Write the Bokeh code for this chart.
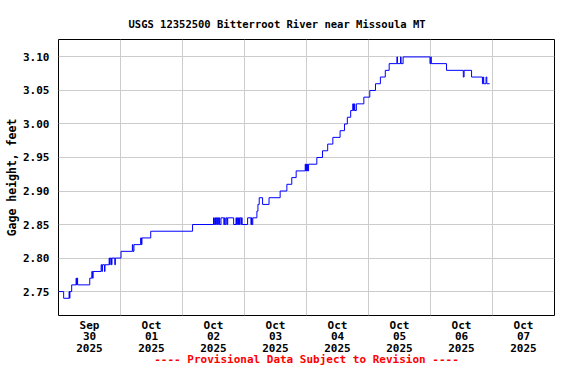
from bokeh.plotting import figure
from bokeh.models import Range1d, FixedTicker, NumeralTickFormatter
from bokeh.embed import file_html
from bokeh.resources import INLINE

# ---- data (hours since 2025-09-30 00:00 local, gage height in feet) ----
hours = [
    0.0, 2.0, 4.1, 4.3, 4.4, 5.1, 6.8, 7.0, 7.2, 7.4,
    12.1, 12.9, 13.2, 13.4, 16.5, 16.8, 17.0, 17.8, 18.0, 19.6,
    19.8, 20.0, 20.5, 20.7, 21.8, 22.0, 24.2, 28.6, 28.8, 29.2,
    31.8, 32.1, 32.3, 35.7, 51.9,
    60.0, 60.3, 60.6, 60.8, 61.1, 61.4, 61.6, 62.0, 62.2, 62.4,
    62.9, 64.0, 64.3, 64.5, 64.9, 65.3, 65.5, 67.8, 68.7, 68.9,
    69.2, 69.4, 69.7, 69.9, 70.1, 70.6, 70.8, 71.1, 73.2, 74.5,
    74.7, 74.9, 75.2,
    76.8, 77.2, 77.7, 79.0, 81.5, 85.8, 88.4, 90.3, 92.0,
    95.5, 95.7, 95.9, 96.1, 96.3, 96.5, 96.8,
    100.0, 102.2, 104.2, 106.2, 109.0, 110.7, 111.8, 113.1, 113.9,
    114.2, 114.5, 114.7, 115.3, 118.2, 120.5, 122.7, 124.6, 126.5,
    128.0, 131.0, 131.2, 132.4, 132.6, 133.4, 143.8, 144.1, 144.3,
    150.2, 156.7, 157.0, 159.9, 164.1, 164.4, 164.6, 165.5, 165.8,
    166.9,
]
gage_ft = [
    2.75, 2.74, 2.75, 2.74, 2.75, 2.76, 2.77, 2.76, 2.77, 2.76,
    2.77, 2.78, 2.77, 2.78, 2.79, 2.78, 2.79, 2.78, 2.79, 2.80,
    2.79, 2.80, 2.79, 2.80, 2.79, 2.80, 2.81, 2.82, 2.81, 2.82,
    2.83, 2.82, 2.83, 2.84, 2.85,
    2.86, 2.85, 2.86, 2.85, 2.86, 2.85, 2.86, 2.85, 2.86, 2.85,
    2.86, 2.85, 2.86, 2.85, 2.86, 2.85, 2.86, 2.85, 2.86, 2.85,
    2.86, 2.85, 2.86, 2.85, 2.86, 2.85, 2.86, 2.85, 2.86, 2.85,
    2.86, 2.85, 2.86,
    2.87, 2.88, 2.89, 2.88, 2.89, 2.90, 2.91, 2.92, 2.93,
    2.94, 2.93, 2.94, 2.93, 2.94, 2.93, 2.94,
    2.95, 2.96, 2.97, 2.98, 2.99, 3.00, 3.01, 3.02, 3.03,
    3.02, 3.03, 3.02, 3.03, 3.04, 3.05, 3.06, 3.07, 3.08,
    3.09, 3.10, 3.09, 3.10, 3.09, 3.10, 3.09, 3.10, 3.09,
    3.08, 3.07, 3.08, 3.07, 3.06, 3.07, 3.06, 3.07, 3.06,
    3.06,
]

day_label_hours = [12, 36, 60, 84, 108, 132, 156, 180]
day_labels = ["Sep\n30\n2025", "Oct\n01\n2025", "Oct\n02\n2025", "Oct\n03\n2025",
              "Oct\n04\n2025", "Oct\n05\n2025", "Oct\n06\n2025", "Oct\n07\n2025"]
midnight_hours = [24, 48, 72, 96, 120, 144, 168]
y_ticks = [2.75, 2.80, 2.85, 2.90, 2.95, 3.00, 3.05, 3.10]

title_text = "USGS 12352500 Bitterroot River near Missoula MT"
y_label = "Gage height, feet"
footer_text = "---- Provisional Data Subject to Revision ----"

FONT = "DejaVu Sans Mono"

p = figure(width=560, height=368, output_backend="svg", toolbar_location=None,
           x_range=Range1d(0, 192), y_range=Range1d(2.7143, 3.126),
           min_border_left=58, min_border_right=6, min_border_top=39,
           min_border_bottom=52)

p.background_fill_color = "white"
p.border_fill_color = "white"
p.outline_line_color = "black"
p.outline_line_width = 1
p.outline_line_alpha = 1

# title
p.title.text = title_text
p.title.align = "left"
p.title.offset = 70
p.title.text_font = FONT
p.title.text_font_size = "10.5px"
p.title.text_font_style = "bold"
p.title.text_color = "black"
p.title.standoff = 20

# grids
p.xgrid.ticker = FixedTicker(ticks=midnight_hours)
p.ygrid.ticker = FixedTicker(ticks=y_ticks)
for g in (p.xgrid, p.ygrid):
    g.grid_line_color = "#cccccc"
    g.grid_line_width = 1

# x axis (footer text is carried as the axis label, right under the dates)
xa = p.xaxis[0]
xa.ticker = FixedTicker(ticks=day_label_hours)
xa.major_label_overrides = {h: lab for h, lab in zip(day_label_hours, day_labels)}
xa.axis_line_color = None
xa.major_tick_line_color = None
xa.minor_tick_line_color = None
xa.major_tick_in = 0
xa.major_tick_out = 0
xa.major_label_standoff = 3
xa.major_label_text_font = FONT
xa.major_label_text_font_size = "11px"
xa.major_label_text_font_style = "bold"
xa.major_label_text_color = "black"
xa.major_label_text_line_height = 0.9
xa.axis_label = footer_text
xa.axis_label_standoff = -5
xa.axis_label_text_font = FONT
xa.axis_label_text_font_size = "11px"
xa.axis_label_text_font_style = "bold"
xa.axis_label_text_color = "#ff0000"

# y axis
ya = p.yaxis[0]
ya.ticker = FixedTicker(ticks=y_ticks)
ya.formatter = NumeralTickFormatter(format="0.00")
ya.axis_line_color = None
ya.major_tick_line_color = None
ya.minor_tick_line_color = None
ya.major_tick_in = 0
ya.major_tick_out = 0
ya.major_label_standoff = 9
ya.major_label_text_font = FONT
ya.major_label_text_font_size = "11px"
ya.major_label_text_font_style = "bold"
ya.major_label_text_color = "black"
ya.axis_label = y_label
ya.axis_label_standoff = 1
ya.axis_label_text_font = FONT
ya.axis_label_text_font_size = "11.5px"
ya.axis_label_text_font_style = "bold"
ya.axis_label_text_color = "black"

# data line
p.step(hours, gage_ft, mode="after", line_color="#0000ff", line_width=1)

open("out.html", "w").write(file_html(p, INLINE))
